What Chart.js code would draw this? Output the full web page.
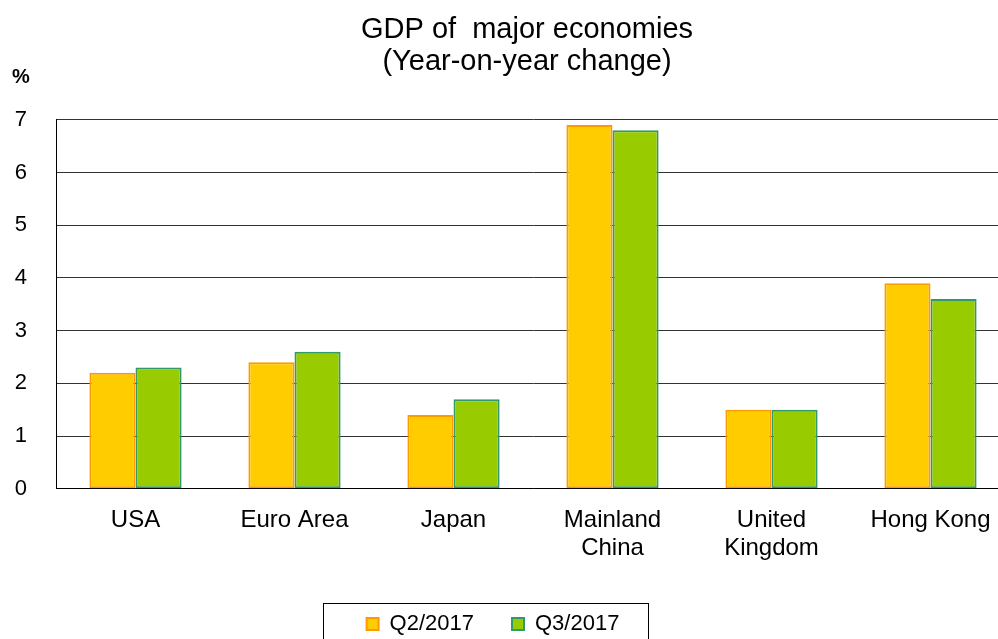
<!DOCTYPE html>
<html>
<head>
<meta charset="utf-8">
<script src="https://cdn.jsdelivr.net/npm/chart.js@4.4.1/dist/chart.umd.min.js"></script>
<style>
  html, body { margin: 0; padding: 0; background: #fff; overflow: hidden; }
  #wrap { width: 1010px; height: 645px; position: relative; }
</style>
</head>
<body>
<div id="wrap"><canvas id="gdpChart"></canvas></div>
<script>
// categories and values
var economies = ['USA', 'Euro Area', 'Japan', ['Mainland', 'China'], ['United', 'Kingdom'], 'Hong Kong'];
var q2Values = [2.2, 2.4, 1.4, 6.9, 1.5, 3.9];
var q3Values = [2.3, 2.6, 1.7, 6.8, 1.5, 3.6];
var seriesNames = ['Q2/2017', 'Q3/2017'];
var titleLines = ['GDP of  major economies', '(Year-on-year change)'];

var fontName = '"Liberation Sans", Arial, sans-serif';

// nudges title and legend, draws the "%" unit label and the legend frame
var extrasPlugin = {
  id: 'extras',
  afterLayout: function (chart) {
    // title sits a little right of centre, legend a little left
    chart.titleBlock.left += 22;
    chart.titleBlock.right += 22;
    chart.legend.left -= 12;
    chart.legend.right -= 12;
  },
  afterDraw: function (chart) {
    var ctx = chart.ctx;
    ctx.save();
    ctx.font = 'bold 20px ' + fontName;
    ctx.fillStyle = '#000';
    ctx.textAlign = 'center';
    ctx.textBaseline = 'middle';
    ctx.fillText('%', 21, 77);

    var hb = chart.legend.legendHitBoxes;
    if (hb && hb.length) {
      var last = hb[hb.length - 1];
      var l = Math.round(hb[0].left - 44);
      var r = Math.round(last.left + last.width + 29);
      var t = Math.round(hb[0].top - 10);
      ctx.strokeStyle = '#000';
      ctx.lineWidth = 1;
      ctx.strokeRect(l + 0.5, t + 0.5, r - l, 120);
    }
    ctx.restore();
  }
};

var ctx = document.getElementById('gdpChart');
var gdpChart = new Chart(ctx, {
  type: 'bar',
  data: {
    labels: economies,
    datasets: [
      {
        label: seriesNames[0],
        data: q2Values,
        backgroundColor: '#FFCC00',
        borderColor: '#FF9900',
        borderWidth: 2,
        borderSkipped: false
      },
      {
        label: seriesNames[1],
        data: q3Values,
        backgroundColor: '#99CC00',
        borderColor: '#339966',
        borderWidth: 2,
        borderSkipped: false
      }
    ]
  },
  options: {
    responsive: true,
    maintainAspectRatio: false,
    animation: false,
    devicePixelRatio: 1,
    layout: { padding: 0 },
    datasets: {
      bar: { categoryPercentage: 0.58, barPercentage: 1.0 }
    },
    scales: {
      x: {
        grid: { display: false },
        border: { display: true, color: '#000', width: 1 },
        ticks: {
          color: '#000',
          font: { family: fontName, size: 24, lineHeight: 1.17 },
          padding: 9,
          maxRotation: 0,
          autoSkip: false
        },
        afterFit: function (scale) {
          scale.height += 4;
        }
      },
      y: {
        min: 0,
        max: 7,
        grid: { color: '#333', lineWidth: 1, drawTicks: false },
        border: { display: true, color: '#000', width: 1 },
        ticks: {
          stepSize: 1,
          color: '#000',
          font: { family: fontName, size: 22 },
          padding: 29
        },
        afterFit: function (scale) {
          scale.width = 56;
        }
      }
    },
    plugins: {
      title: {
        display: true,
        text: titleLines,
        color: '#000',
        font: { family: fontName, size: 29, weight: 'normal', lineHeight: 1.1 },
        padding: { top: 14, bottom: 42 }
      },
      legend: {
        position: 'bottom',
        labels: {
          color: '#000',
          font: { family: fontName, size: 22 },
          boxWidth: 12,
          boxHeight: 12,
          padding: 38
        }
      },
      tooltip: { enabled: false }
    }
  },
  plugins: [extrasPlugin]
});
</script>
</body>
</html>
